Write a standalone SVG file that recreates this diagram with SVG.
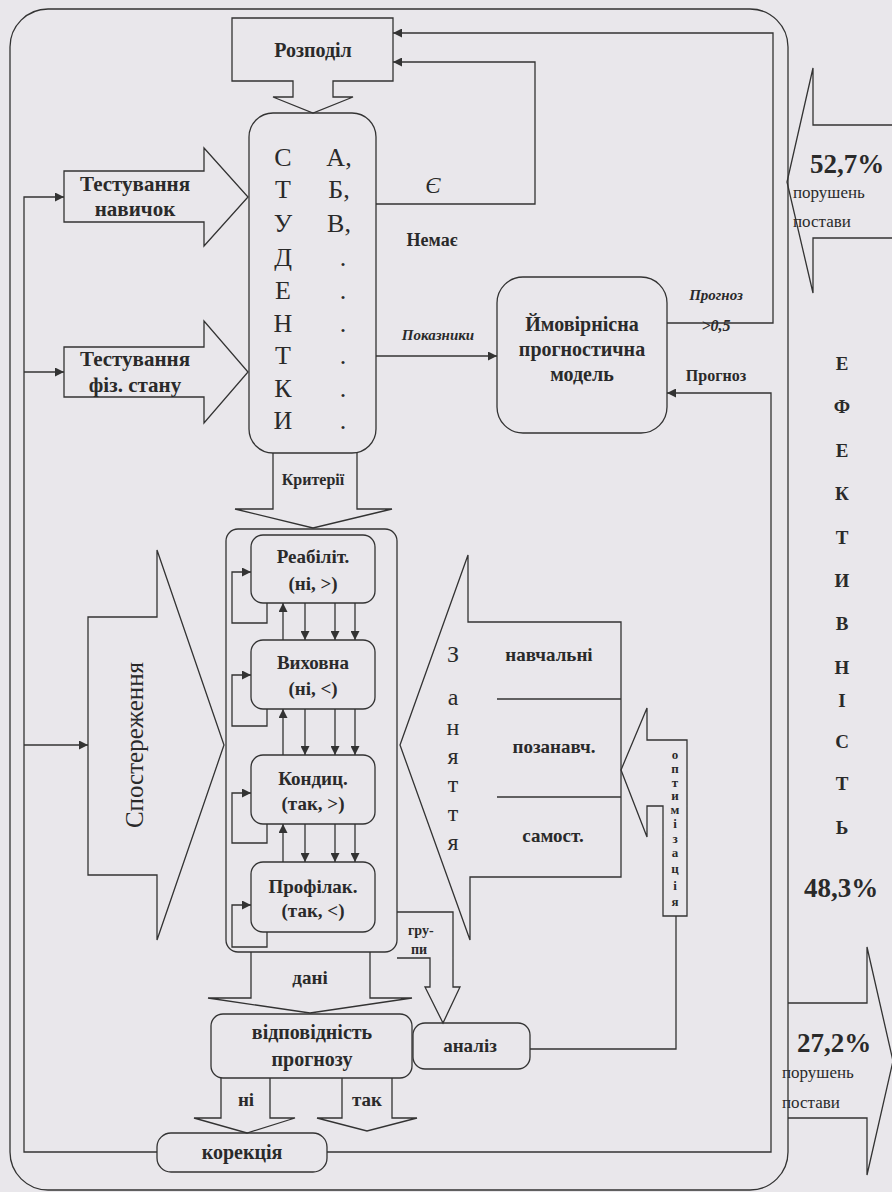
<svg xmlns="http://www.w3.org/2000/svg" width="892" height="1192" viewBox="0 0 892 1192" font-family="'Liberation Serif', 'DejaVu Serif', serif">
<style>
.ln{fill:none;stroke:#333;stroke-width:1.3}
.bx{fill:none;stroke:#333;stroke-width:1.3}
.t{font-family:'Liberation Serif','DejaVu Serif',serif;fill:#2a2a2a}
.b{font-weight:bold}
.i{font-style:italic}
.c{text-anchor:middle}
</style>
<defs>
<marker id="ah" viewBox="0 0 10 10" refX="10" refY="5" markerWidth="11" markerHeight="9" markerUnits="userSpaceOnUse" orient="auto"><path d="M0,0 L10,5 L0,10 z" fill="#333"/></marker>
</defs>
<rect x="0" y="0" width="892" height="1192" fill="#e9e7eb"/>
<g id="frame"><rect x="10" y="9" width="778" height="1181" rx="38" class="bx"/></g>

<g id="connectors">
<path class="ln" d="M667 323 H773 V33 H393" marker-end="url(#ah)"/>
<path class="ln" d="M376 204 H535 V62 H393" marker-end="url(#ah)"/>
<path class="ln" d="M376 356 H497" marker-end="url(#ah)"/>
<path class="ln" d="M327 1152 H771 V393 H667" marker-end="url(#ah)"/>
<path class="ln" d="M157 1152 H24 V197 H64" marker-end="url(#ah)"/>
<path class="ln" d="M24 372 H64" marker-end="url(#ah)"/>
<path class="ln" d="M24 745 H88" marker-end="url(#ah)"/>
<path class="ln" d="M530 1049 H676 V916"/>
<path class="ln" d="M283 640 V603" marker-end="url(#ah)"/>
<path class="ln" d="M305 603 V640" marker-end="url(#ah)"/>
<path class="ln" d="M335 603 V640" marker-end="url(#ah)"/>
<path class="ln" d="M355 603 V640" marker-end="url(#ah)"/>
<path class="ln" d="M283 755 V709" marker-end="url(#ah)"/>
<path class="ln" d="M305 709 V755" marker-end="url(#ah)"/>
<path class="ln" d="M335 709 V755" marker-end="url(#ah)"/>
<path class="ln" d="M355 709 V755" marker-end="url(#ah)"/>
<path class="ln" d="M283 862 V824" marker-end="url(#ah)"/>
<path class="ln" d="M305 824 V862" marker-end="url(#ah)"/>
<path class="ln" d="M335 824 V862" marker-end="url(#ah)"/>
<path class="ln" d="M355 824 V862" marker-end="url(#ah)"/>
<path class="ln" d="M267 603 V623 H232 V572 H251" marker-end="url(#ah)"/>
<path class="ln" d="M267 709 V726 H232 V675 H251" marker-end="url(#ah)"/>
<path class="ln" d="M267 824 V843 H232 V793 H251" marker-end="url(#ah)"/>
<path class="ln" d="M267 932 V947 H232 V905 H251" marker-end="url(#ah)"/>
<text class="t i" x="433" y="193" font-size="23" text-anchor="middle">Є</text>
<text class="t b" x="432" y="246" font-size="18" text-anchor="middle">Немає</text>
<text class="t b i" x="438" y="340" font-size="15" text-anchor="middle">Показники</text>
<text class="t b i" x="716" y="300" font-size="15" text-anchor="middle">Прогноз</text>
<text class="t b i" x="716" y="331" font-size="16" text-anchor="middle">&gt;0,5</text>
<text class="t b" x="716" y="381" font-size="16" text-anchor="middle">Прогноз</text>
</g>

<g id="rozpodil">
<path class="bx" d="M232 18 H393 V81 H333 V97 H353 L313 113 L273 97 H293 V81 H232 Z"/>
<text class="t b c" x="313" y="57" font-size="20">Розподіл</text>
</g>

<g id="studenty">
<rect x="249" y="113" width="127" height="340" rx="24" class="bx"/>
<g class="t c" font-size="26">
<text x="283" y="166">С</text><text x="283" y="198">Т</text><text x="283" y="232">У</text>
<text x="283" y="266">Д</text><text x="283" y="299">Е</text><text x="283" y="332">Н</text>
<text x="283" y="364">Т</text><text x="283" y="397">К</text><text x="283" y="429">И</text>
<text x="339" y="166">А,</text><text x="339" y="198">Б,</text><text x="339" y="232">В,</text>
<text x="343" y="266">.</text><text x="343" y="299">.</text><text x="343" y="332">.</text>
<text x="343" y="364">.</text><text x="343" y="397">.</text><text x="343" y="429">.</text>
</g>
</g>

<g id="test-navychok">
<path class="bx" d="M64 171 H204 V148 L248 197 L204 246 V222 H64 Z"/>
<text class="t b c" x="135" y="191" font-size="21">Тестування</text>
<text class="t b c" x="135" y="216" font-size="21">навичок</text>
</g>

<g id="test-fiz">
<path class="bx" d="M64 347 H204 V321 L248 372 L204 423 V397 H64 Z"/>
<text class="t b c" x="135" y="366" font-size="21">Тестування</text>
<text class="t b c" x="135" y="392" font-size="21">фіз. стану</text>
</g>

<g id="model">
<rect x="497" y="277" width="170" height="156" rx="26" class="bx"/>
<text class="t b c" x="582" y="331" font-size="20">Ймовірнісна</text>
<text class="t b c" x="582" y="356" font-size="20">прогностична</text>
<text class="t b c" x="582" y="381" font-size="20">модель</text>
</g>

<g id="kryterii">
<path class="bx" d="M273 453 V509 H235 L313 528 L392 509 H357 V453"/>
<text class="t b c" x="313" y="485" font-size="16">Критерії</text>
</g>

<g id="sposterezhennya">
<path class="bx" d="M88 617 H157 V550 L224 745 L157 940 V875 H88 Z"/>
<text class="t c" transform="translate(143 745) rotate(-90)" font-size="25">Спостереження</text>
</g>

<g id="group">
<rect x="226" y="529" width="171" height="423" rx="12" class="bx"/>
</g>

<g id="reabilit">
<rect x="251" y="535" width="124" height="68" rx="12" class="bx"/>
<text class="t b c" x="313" y="563" font-size="19">Реабіліт.</text>
<text class="t b c" x="313" y="590" font-size="19">(ні, &gt;)</text>
</g>
<g id="vykhovna">
<rect x="251" y="640" width="124" height="69" rx="12" class="bx"/>
<text class="t b c" x="313" y="669" font-size="19">Виховна</text>
<text class="t b c" x="313" y="695" font-size="19">(ні, &lt;)</text>
</g>
<g id="kondyts">
<rect x="251" y="755" width="124" height="69" rx="12" class="bx"/>
<text class="t b c" x="313" y="785" font-size="19">Кондиц.</text>
<text class="t b c" x="313" y="810" font-size="19">(так, &gt;)</text>
</g>
<g id="profilak">
<rect x="251" y="862" width="124" height="70" rx="12" class="bx"/>
<text class="t b c" x="313" y="893" font-size="19">Профілак.</text>
<text class="t b c" x="313" y="917" font-size="19">(так, &lt;)</text>
</g>

<g id="zanyattya">
<path class="bx" d="M400 745 L468 555 V622 H621 V877 H470 V940 Z"/>
<line class="ln" x1="497" y1="699" x2="621" y2="699"/>
<line class="ln" x1="497" y1="797" x2="621" y2="797"/>
<g class="t c" font-size="24">
<text x="453" y="662">З</text><text x="453" y="705">а</text><text x="453" y="735">н</text>
<text x="453" y="764">я</text><text x="453" y="792">т</text><text x="453" y="821">т</text><text x="453" y="850">я</text>
</g>
<text class="t b c" x="549" y="661" font-size="19">навчальні</text>
<text class="t b c" x="554" y="753" font-size="19">позанавч.</text>
<text class="t b c" x="553" y="842" font-size="19">самост.</text>
</g>

<g id="optymizatsiya">
<path class="bx" d="M621 770 L647 708 V740 H687 V916 H663 V806 H647 V837 Z"/>
<g class="t b c" font-size="13">
<text x="675" y="759">о</text><text x="675" y="773">п</text><text x="675" y="787">т</text>
<text x="675" y="800">и</text><text x="675" y="814">м</text><text x="675" y="828">і</text>
<text x="675" y="843">з</text><text x="675" y="857">а</text><text x="675" y="873">ц</text>
<text x="675" y="890">і</text><text x="675" y="906">я</text>
</g>
</g>

<g id="hrupy">
<path class="bx" d="M397 912 H453 V987 H460 L443 1023 L425 987 H430 V958 H397"/>
<text class="t b" x="408" y="935" font-size="14">гру-</text>
<text class="t b" x="411" y="954" font-size="14">пи</text>
</g>

<g id="dani">
<path class="bx" d="M251 952 V998 H208 L310 1013 L412 998 H370 V952"/>
<text class="t b c" x="310" y="984" font-size="19">дані</text>
</g>

<g id="vidpovidnist">
<rect x="211" y="1014" width="201" height="64" rx="12" class="bx"/>
<text class="t b c" x="312" y="1039" font-size="20">відповідність</text>
<text class="t b c" x="312" y="1066" font-size="20">прогнозу</text>
</g>

<g id="analiz">
<rect x="413" y="1023" width="117" height="46" rx="12" class="bx"/>
<text class="t b c" x="470" y="1052" font-size="19">аналіз</text>
</g>

<g id="ni">
<path class="bx" d="M221 1078 V1118 H194 L247 1133 L295 1118 H270 V1078"/>
<text class="t b c" x="246" y="1106" font-size="19">ні</text>
</g>
<g id="tak">
<path class="bx" d="M342 1078 V1118 H317 L367 1131 L417 1118 H392 V1078"/>
<text class="t b c" x="367" y="1106" font-size="19">так</text>
</g>

<g id="korektsiya">
<rect x="157" y="1133" width="170" height="39" rx="14" class="bx"/>
<text class="t b c" x="242" y="1159" font-size="20">корекція</text>
</g>

<g id="arrow-top-right">
<path class="bx" d="M896 125 H813 V68 L787 182 L813 293 V238 H896"/>
<text class="t b c" x="847" y="173" font-size="27">52,7%</text>
<text class="t" x="793" y="198" font-size="17">порушень</text>
<text class="t" x="793" y="227" font-size="17">постави</text>
</g>

<g id="arrow-bottom-right">
<path class="bx" d="M788 1003 H867 V947 L893 1061 L867 1175 V1118 H788"/>
<text class="t b c" x="841" y="897" font-size="27">48,3%</text>
<text class="t b c" x="834" y="1052" font-size="27">27,2%</text>
<text class="t" x="782" y="1078" font-size="17">порушень</text>
<text class="t" x="782" y="1108" font-size="17">постави</text>
</g>

<g id="efektyvnist" class="t b c" font-size="19">
<text x="842" y="370">Е</text><text x="842" y="413">Ф</text><text x="842" y="457">Е</text>
<text x="842" y="500">К</text><text x="842" y="544">Т</text><text x="842" y="587">И</text>
<text x="842" y="630">В</text><text x="842" y="674">Н</text><text x="842" y="707">І</text>
<text x="842" y="748">С</text><text x="842" y="790">Т</text><text x="842" y="834">Ь</text>
</g>
</svg>
